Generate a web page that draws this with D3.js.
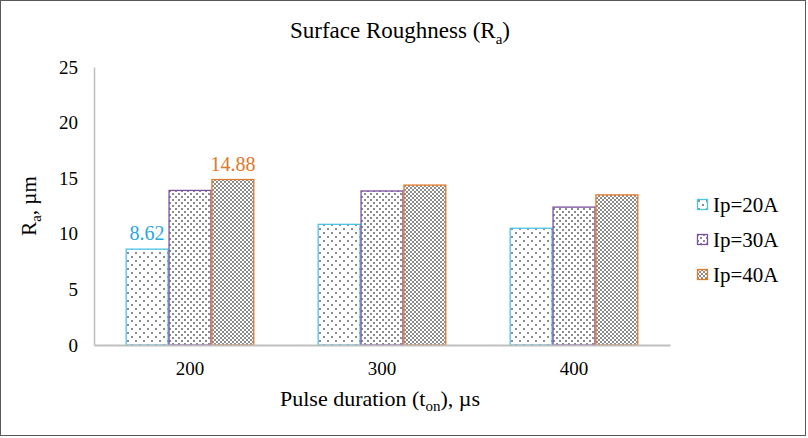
<!DOCTYPE html>
<html lang="en">
<head>
  <meta charset="UTF-8">
  <title>Surface Roughness</title>
  <script src="https://d3js.org/d3.v7.min.js"></script>
  <style>
    body { margin: 0; background: #fff; }
  </style>
</head>
<body>
<script>
// chart data
var categories = ["200", "300", "400"];
var seriesNames = ["Ip=20A", "Ip=30A", "Ip=40A"];
var ip20 = [8.62, 10.85, 10.5];
var ip30 = [13.9, 13.85, 12.4];
var ip40 = [14.88, 14.38, 13.5];
var yTicks = [0, 5, 10, 15, 20, 25];

var seriesValues = [ip20, ip30, ip40];
var strokeColors = ["#4cc4e6", "#7a4fa0", "#e07a2a"];
var labelColors = ["#2aa8df", "#7a4fa0", "#e07828"];

var W = 808, H = 438;
var margin = {top: 67, right: 138, bottom: 93, left: 94};
var width = W - margin.left - margin.right;
var height = H - margin.top - margin.bottom;

var svg = d3.select("body").append("svg")
    .attr("width", W)
    .attr("height", H);

// chart border
svg.append("rect")
    .attr("x", 0.5).attr("y", 0.5)
    .attr("width", W - 3).attr("height", H - 3)
    .attr("fill", "#fff")
    .attr("stroke", "#595959");

// fill patterns
var defs = svg.append("defs");
var grey = "#8c8c8c";

var p1 = defs.append("pattern").attr("id", "pat0")
    .attr("patternUnits", "userSpaceOnUse").attr("width", 8).attr("height", 8);
p1.append("rect").attr("width", 8).attr("height", 8).attr("fill", "#fff");
p1.append("rect").attr("x", 1).attr("y", 1).attr("width", 2).attr("height", 2).attr("fill", grey);
p1.append("rect").attr("x", 5).attr("y", 5).attr("width", 2).attr("height", 2).attr("fill", grey);

var p2 = defs.append("pattern").attr("id", "pat1")
    .attr("patternUnits", "userSpaceOnUse").attr("width", 6).attr("height", 6);
p2.append("rect").attr("width", 6).attr("height", 6).attr("fill", "#fff");
p2.append("rect").attr("x", 0).attr("y", 0).attr("width", 2).attr("height", 2).attr("fill", grey);
p2.append("rect").attr("x", 3).attr("y", 3).attr("width", 2).attr("height", 2).attr("fill", grey);

var p3 = defs.append("pattern").attr("id", "pat2")
    .attr("patternUnits", "userSpaceOnUse").attr("width", 4).attr("height", 4);
p3.append("rect").attr("width", 4).attr("height", 4).attr("fill", "#fff");
p3.append("rect").attr("x", 0).attr("y", 0).attr("width", 2).attr("height", 2).attr("fill", grey);
p3.append("rect").attr("x", 2).attr("y", 2).attr("width", 2).attr("height", 2).attr("fill", grey);

var g = svg.append("g")
    .attr("transform", "translate(" + margin.left + "," + margin.top + ")");

// scales
var x0 = d3.scaleBand().domain(categories).range([0, width]).paddingInner(0.33).paddingOuter(0.165);
var x1 = d3.scaleBand().domain(seriesNames).range([0, x0.bandwidth()]);
var y = d3.scaleLinear().domain([0, 25]).range([height, 0]);

// y axis
var yAxis = g.append("g")
    .call(d3.axisLeft(y).tickValues(yTicks).tickSize(0).tickPadding(16));
yAxis.select(".domain").attr("stroke", "#bfbfbf").attr("stroke-width", 1.5);
yAxis.selectAll("text").style("font-size", "19px");

// bars
var data = [];
seriesValues.forEach(function(vals, s) {
  vals.forEach(function(v, i) {
    data.push({cat: categories[i], s: s, v: v});
  });
});

g.selectAll(".bar")
  .data(data)
  .enter().append("rect")
    .attr("class", "bar")
    .attr("x", function(d) { return x0(d.cat) + x1(seriesNames[d.s]) + 0.5; })
    .attr("y", function(d) { return y(d.v); })
    .attr("width", x1.bandwidth() - 1)
    .attr("height", function(d) { return height - y(d.v); })
    .attr("fill", function(d) { return "url(#pat" + d.s + ")"; })
    .attr("stroke", function(d) { return strokeColors[d.s]; })
    .attr("stroke-width", 1.3);

// data labels (only the first category for 20A and 40A)
var labelled = [{s: 0, i: 0}, {s: 2, i: 0}];
g.selectAll(".dlabel")
  .data(labelled)
  .enter().append("text")
    .attr("class", "dlabel")
    .attr("x", function(d) { return x0(categories[d.i]) + x1(seriesNames[d.s]) + x1.bandwidth() / 2; })
    .attr("y", function(d) { return y(seriesValues[d.s][d.i]) - 9; })
    .attr("text-anchor", "middle")
    .style("font-size", "20px")
    .style("fill", function(d) { return labelColors[d.s]; })
    .text(function(d) { return seriesValues[d.s][d.i].toFixed(2); });

// x axis
var xAxis = g.append("g")
    .attr("transform", "translate(0," + height + ")")
    .call(d3.axisBottom(x0).tickSize(0).tickPadding(17));
xAxis.select(".domain").attr("stroke", "#bfbfbf").attr("stroke-width", 2);
xAxis.selectAll("text").style("font-size", "19px");

// title
var title = svg.append("text")
    .attr("x", 400).attr("y", 38)
    .attr("text-anchor", "middle")
    .style("font-size", "23px");
title.append("tspan").text("Surface Roughness (R");
title.append("tspan").attr("dy", 6).style("font-size", "15px").text("a");
title.append("tspan").attr("dy", -6).text(")");

// x axis title
var xt = svg.append("text")
    .attr("x", 380).attr("y", 406)
    .attr("text-anchor", "middle")
    .style("font-size", "22px");
xt.append("tspan").text("Pulse duration (t");
xt.append("tspan").attr("dy", 5).style("font-size", "15px").text("on");
xt.append("tspan").attr("dy", -5).text("), \u00b5s");

// y axis title
var yt = svg.append("text")
    .attr("transform", "translate(36,206) rotate(-90)")
    .attr("text-anchor", "middle")
    .style("font-size", "21px");
yt.append("tspan").text("R");
yt.append("tspan").attr("dy", 5).style("font-size", "15px").text("a");
yt.append("tspan").attr("dy", -5).text(", \u00b5m");

// legend
var legend = svg.selectAll(".legend")
    .data(seriesNames)
  .enter().append("g")
    .attr("class", "legend")
    .attr("transform", function(d, i) { return "translate(697," + (199 + i * 35) + ")"; });

legend.append("rect")
    .attr("x", 0.5).attr("y", 0.5)
    .attr("width", 10).attr("height", 10)
    .attr("fill", function(d, i) { return "url(#pat" + i + ")"; })
    .attr("stroke", function(d, i) { return strokeColors[i]; })
    .attr("stroke-width", 1.3);

legend.append("text")
    .attr("x", 16)
    .attr("y", 13)
    .style("font-size", "21px")
    .text(function(d) { return d; });

// serif everywhere
svg.selectAll("text").style("font-family", "Liberation Serif");
svg.selectAll("g").attr("font-family", "Liberation Serif");
</script>
</body>
</html>
